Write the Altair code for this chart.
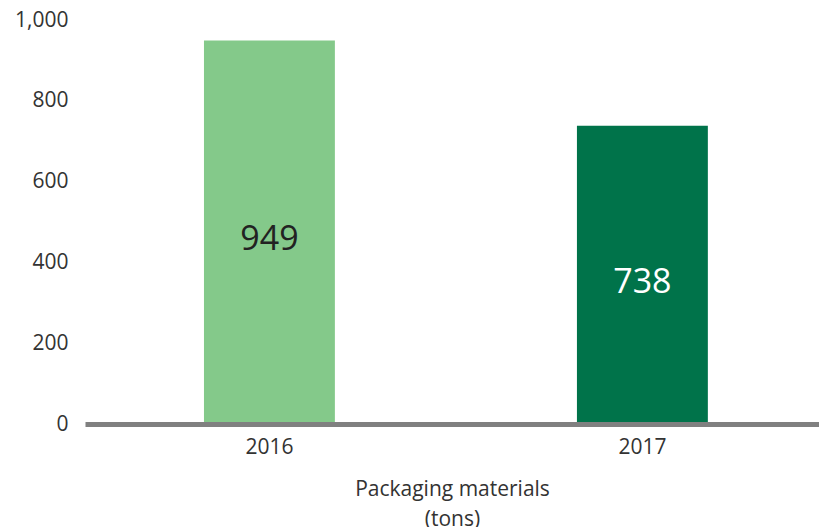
import altair as alt
import pandas as pd

years = ["2016", "2017"]
values = [949, 738]
bar_colors = ["#84C98A", "#00734A"]
label_colors = ["#222222", "#FFFFFF"]

df = pd.DataFrame({"year": years, "value": values, "color": bar_colors,
                   "tcolor": label_colors})
df["half"] = df["value"] / 2

FONT = "Open Sans"

x = alt.X("year:N", sort=years,
          scale=alt.Scale(paddingInner=0.649, paddingOuter=0.3085, align=0.517),
          axis=alt.Axis(title=["Packaging materials", "(tons)"], labelAngle=0,
                        domainColor="#808080", domainWidth=5, ticks=False,
                        grid=False,
                        labelFont=FONT, labelFontSize=21, labelColor="#333333",
                        labelPadding=12, titleFont=FONT, titleFontSize=21,
                        titleFontWeight="normal", titleColor="#333333",
                        titlePadding=21, titleLineHeight=30, zindex=1))

bars = alt.Chart(df).mark_bar().encode(
    x=x,
    y=alt.Y("value:Q", scale=alt.Scale(domain=[0, 1000], nice=False),
            axis=alt.Axis(title=None, values=[0, 200, 400, 600, 800, 1000],
                          format=",.0f", domain=False, ticks=False, grid=False,
                          labelFont=FONT, labelFontSize=21, labelColor="#333333",
                          labelPadding=17)),
    color=alt.Color("color:N", scale=None),
)

text = alt.Chart(df).mark_text(font=FONT, fontSize=34, baseline="middle",
                               align="center", dy=8).encode(
    x=alt.X("year:N", sort=years),
    y=alt.Y("half:Q"),
    text=alt.Text("value:Q"),
    color=alt.Color("tcolor:N", scale=None),
)

chart = alt.layer(bars, text).properties(
    width=734, height=404,
    background="white",
    autosize=alt.AutoSizeParams(type="none"),
    padding={"left": 85, "top": 20, "right": 0, "bottom": 103},
).configure_view(stroke=None, strokeWidth=0)

chart.save("out.html", embed_options={"renderer": "svg", "actions": False})
